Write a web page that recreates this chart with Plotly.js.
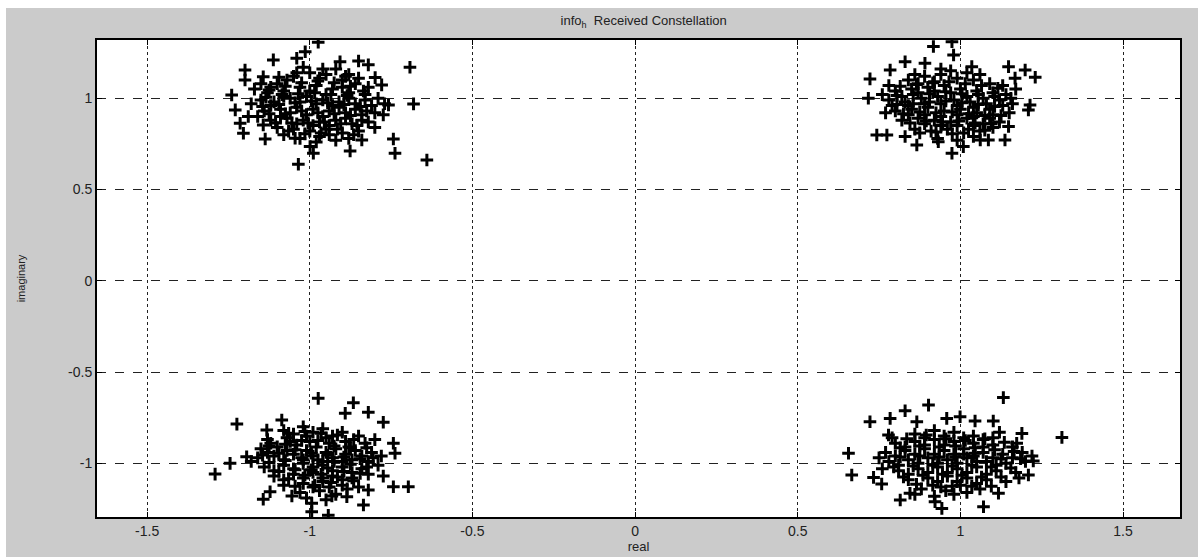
<!DOCTYPE html>
<html>
<head>
<meta charset="utf-8">
<script src="https://cdn.plot.ly/plotly-3.0.1.min.js"></script>
<style>
  html, body { margin: 0; padding: 0; background: #ffffff; }
  #chart { position: absolute; left: 6px; top: 8px; width: 1192px; height: 549px; }
</style>
</head>
<body>
<div id="chart"></div>
<script>
// Received constellation points [real, imaginary]
const clusterTopLeft = [
  [-0.974,1.307],[-1.014,1.255],[-1.112,1.21],[-1.04,1.219],[-1.199,1.155],[-1.199,1.10],[-1.143,1.118],
  [-0.692,1.17],[-1.24,1.018],[-0.681,0.969],[-1.229,0.936],[-1.189,0.90],[-1.214,0.863],[-1.204,0.808],
  [-1.143,0.854],[-1.137,0.777],[-1.045,0.781],[-0.743,0.777],[-0.738,0.699],[-0.876,0.711],[-0.989,0.699],
  [-0.999,0.735],[-1.035,0.638],[-0.64,0.662],[-0.84,0.771],[-0.907,1.20],[-0.85,1.204],[-0.82,1.183],
  [-0.799,1.113],[-0.779,1.073],[-0.758,0.963],[-0.774,0.909],
  [-1.10,1.08],[-1.05,1.12],[-1.00,1.14],[-0.95,1.13],[-0.90,1.10],[-0.86,1.08],[-1.13,1.03],[-1.08,1.04],
  [-1.03,1.06],[-0.98,1.07],[-0.93,1.05],[-0.88,1.03],[-0.83,1.02],[-1.15,0.99],[-1.11,0.98],[-1.06,1.00],
  [-1.01,1.01],[-0.96,0.99],[-0.91,0.98],[-0.86,0.97],[-0.81,0.96],[-1.14,0.93],[-1.09,0.94],[-1.04,0.95],
  [-0.99,0.94],[-0.94,0.93],[-0.89,0.92],[-0.84,0.91],[-1.12,0.88],[-1.07,0.89],[-1.02,0.88],[-0.97,0.87],
  [-0.92,0.88],[-0.87,0.86],[-0.82,0.87],[-1.10,0.84],[-1.05,0.83],[-1.00,0.82],[-0.95,0.83],[-0.90,0.81],
  [-0.85,0.82],[-1.03,0.78],[-0.97,0.79],[-0.92,0.77],[-0.88,0.78],[-1.07,1.10],[-0.97,1.11],[-0.92,1.16],
  [-1.02,1.17],[-0.88,1.13],[-1.12,1.06],[-1.00,1.04],[-0.95,1.02],[-0.90,1.06],[-1.08,1.01],[-1.03,0.98],
  [-0.98,0.97],[-0.93,0.96],[-0.88,1.00],[-0.83,0.99],[-1.12,0.96],[-1.06,0.92],[-1.01,0.91],[-0.96,0.90],
  [-0.91,0.95],[-0.86,0.94],[-1.09,0.90],[-1.04,0.86],[-0.99,0.85],[-0.94,0.85],[-0.89,0.89],[-0.84,0.88],
  [-1.08,0.80],[-0.98,0.76],[-0.94,0.80],[-0.80,0.92],[-0.79,1.00],[-0.82,1.06],[-0.85,1.11],[-1.17,1.05],
  [-1.18,0.97],[-1.16,0.90],
  [-1.125,1.045],[-1.075,1.065],[-1.025,1.085],[-0.975,1.095],[-0.925,1.085],[-0.875,1.065],[-1.135,1.005],
  [-1.085,1.02],[-1.035,1.025],[-0.985,1.03],[-0.935,1.02],[-0.885,1.015],[-0.835,1.04],[-1.145,0.955],
  [-1.095,0.965],[-1.045,0.975],[-0.995,0.985],[-0.945,0.975],[-0.895,0.965],[-0.845,0.955],[-1.125,0.915],
  [-1.075,0.915],[-1.025,0.93],[-0.975,0.92],[-0.925,0.915],[-0.875,0.905],[-0.825,0.93],[-1.105,0.865],
  [-1.055,0.865],[-1.005,0.865],[-0.955,0.87],[-0.905,0.86],[-0.855,0.85],[-1.065,0.82],[-1.015,0.805],
  [-0.965,0.81],[-0.915,0.83],[-0.865,0.80],[-1.04,1.14],[-0.96,1.16],[-0.89,1.12],[-1.095,1.115],
  [-1.15,1.08],[-0.80,0.84],[-0.77,0.97]
];
const clusterTopRight = [
  [0.974,1.31],[0.917,1.283],[0.979,1.237],[0.83,1.20],[0.784,1.155],[0.722,1.106],[1.148,1.173],[1.199,1.155],
  [1.23,1.115],[1.035,1.173],[0.891,1.192],[1.214,0.963],[1.209,0.936],[0.717,1.00],[0.743,0.799],[0.774,0.799],
  [0.83,0.79],[0.866,0.744],[0.974,0.699],[1.009,0.735],[1.061,0.771],[1.086,0.771],[1.137,0.771],[1.148,0.845],
  [1.168,1.11],[0.932,0.762],
  [0.84,1.10],[0.89,1.12],[0.94,1.13],[0.99,1.11],[1.04,1.10],[1.09,1.08],[0.80,1.04],[0.85,1.05],[0.90,1.06],
  [0.95,1.07],[1.00,1.05],[1.05,1.04],[1.10,1.03],[1.14,1.02],[0.78,0.99],[0.83,0.98],[0.88,1.00],[0.93,1.01],
  [0.98,0.99],[1.03,0.98],[1.08,0.97],[1.13,0.96],[0.80,0.93],[0.85,0.94],[0.90,0.95],[0.95,0.93],[1.00,0.94],
  [1.05,0.92],[1.10,0.91],[1.15,0.92],[0.82,0.88],[0.87,0.89],[0.92,0.88],[0.97,0.87],[1.02,0.89],[1.07,0.86],
  [1.12,0.87],[0.86,0.83],[0.91,0.82],[0.96,0.83],[1.01,0.81],[1.06,0.82],[0.93,0.78],[0.99,0.77],[1.04,0.79],
  [0.87,1.08],[0.92,1.09],[0.97,1.15],[1.02,1.14],[0.82,1.01],[0.87,1.03],[0.92,1.04],[0.97,1.03],[1.02,1.01],
  [1.07,1.00],[1.12,0.99],[0.79,0.96],[0.84,0.96],[0.89,0.97],[0.94,0.97],[0.99,0.96],[1.04,0.95],[1.09,0.94],
  [0.84,0.91],[0.89,0.91],[0.94,0.90],[0.99,0.91],[1.04,0.90],[1.09,0.89],[0.89,0.86],[0.94,0.85],[0.99,0.85],
  [1.04,0.85],[1.10,0.84],[1.16,0.97],[1.17,1.05],[0.76,1.02],[0.77,0.92],
  [0.815,1.065],[0.865,1.075],[0.915,1.085],[0.965,1.09],[1.015,1.08],[1.065,1.07],[1.115,1.055],[0.805,1.015],
  [0.855,1.02],[0.905,1.025],[0.955,1.035],[1.005,1.025],[1.055,1.02],[1.105,1.01],[1.155,1.0],[0.805,0.965],
  [0.855,0.97],[0.905,0.98],[0.955,0.985],[1.005,0.975],[1.055,0.965],[1.105,0.955],[0.825,0.915],[0.875,0.925],
  [0.925,0.92],[0.975,0.925],[1.025,0.915],[1.075,0.905],[1.125,0.905],[0.845,0.865],[0.895,0.875],[0.945,0.87],
  [0.995,0.875],[1.045,0.865],[1.095,0.86],[0.875,0.81],[0.925,0.815],[0.975,0.805],[1.025,0.83],[1.075,0.825],
  [0.86,1.13],[0.94,1.16],[1.06,1.13],[1.13,1.07],[0.78,1.07]
];
const clusterBottomLeft = [
  [-0.974,-0.644],[-0.866,-0.668],[-0.891,-0.726],[-0.82,-0.72],[-0.774,-0.775],[-1.224,-0.785],[-1.086,-0.763],
  [-1.132,-0.818],[-0.743,-0.89],[-0.738,-0.945],[-1.194,-0.964],[-1.245,-1.00],[-1.291,-1.059],[-0.743,-1.128],
  [-0.697,-1.128],[-0.774,-1.07],[-1.122,-1.156],[-1.143,-1.197],[-1.055,-1.179],[-0.994,-1.219],[-0.994,-1.265],
  [-0.943,-1.285],[-0.835,-1.228],[-0.886,-1.183],[-0.932,-1.179],[-0.82,-1.146],
  [-1.08,-0.82],[-1.02,-0.80],[-0.96,-0.81],[-0.90,-0.83],[-0.85,-0.85],[-1.13,-0.87],[-1.07,-0.86],[-1.01,-0.85],
  [-0.95,-0.86],[-0.89,-0.88],[-0.83,-0.89],[-1.15,-0.92],[-1.10,-0.91],[-1.04,-0.90],[-0.98,-0.91],[-0.92,-0.92],
  [-0.86,-0.93],[-0.81,-0.94],[-1.16,-0.97],[-1.11,-0.96],[-1.05,-0.95],[-0.99,-0.96],[-0.93,-0.97],[-0.87,-0.98],
  [-0.82,-0.99],[-1.14,-1.02],[-1.08,-1.01],[-1.02,-1.00],[-0.96,-1.01],[-0.90,-1.02],[-0.84,-1.03],[-0.79,-1.01],
  [-1.11,-1.07],[-1.05,-1.06],[-0.99,-1.05],[-0.93,-1.07],[-0.87,-1.08],[-0.82,-1.06],[-1.08,-1.12],[-1.02,-1.11],
  [-0.96,-1.10],[-0.90,-1.12],[-0.85,-1.13],[-1.03,-1.16],[-0.97,-1.15],[-0.92,-1.17],[-1.05,-0.84],[-0.99,-0.83],
  [-0.93,-0.85],[-1.12,-0.89],[-1.06,-0.88],[-1.00,-0.88],[-0.94,-0.89],[-0.88,-0.91],[-1.13,-0.94],[-1.07,-0.93],
  [-1.01,-0.93],[-0.95,-0.94],[-0.89,-0.95],[-0.84,-0.96],[-1.08,-0.98],[-1.02,-0.98],[-0.96,-0.99],[-0.90,-0.99],
  [-1.11,-1.04],[-1.05,-1.03],[-0.99,-1.02],[-0.93,-1.04],[-0.87,-1.05],[-1.08,-1.09],[-1.02,-1.08],[-0.96,-1.08],
  [-0.90,-1.09],[-0.99,-1.13],[-0.94,-1.13],[-1.18,-0.99],[-0.78,-0.96],
  [-1.065,-0.835],[-1.015,-0.825],[-0.965,-0.835],[-0.915,-0.845],[-0.865,-0.87],[-1.125,-0.905],[-1.075,-0.895],
  [-1.025,-0.875],[-0.975,-0.875],[-0.925,-0.905],[-0.875,-0.915],[-0.825,-0.915],[-1.145,-0.955],[-1.095,-0.945],
  [-1.045,-0.925],[-0.995,-0.945],[-0.945,-0.955],[-0.895,-0.965],[-0.845,-0.975],[-0.805,-0.97],[-1.125,-0.995],
  [-1.075,-0.985],[-1.025,-0.97],[-0.975,-0.98],[-0.925,-0.99],[-0.875,-1.005],[-0.825,-1.02],[-1.095,-1.045],
  [-1.045,-1.035],[-0.995,-1.035],[-0.945,-1.025],[-0.895,-1.045],[-0.845,-1.055],[-1.065,-1.085],[-1.015,-1.065],
  [-0.965,-1.06],[-0.915,-1.075],[-0.865,-1.095],[-1.045,-1.125],[-0.985,-1.12],[-0.935,-1.105],[-0.885,-1.14],
  [-1.01,-1.19],[-0.95,-1.2],[-0.80,-0.87]
];
const clusterBottomRight = [
  [1.132,-0.64],[0.902,-0.681],[0.83,-0.712],[0.722,-0.772],[0.784,-0.754],[0.999,-0.745],[0.958,-0.754],
  [1.045,-0.768],[1.101,-0.768],[1.312,-0.858],[0.656,-0.945],[0.666,-1.064],[0.733,-1.077],[0.758,-1.113],
  [0.815,-1.201],[0.845,-1.164],[0.922,-1.21],[0.943,-1.247],[1.071,-1.238],[1.117,-1.164],[1.209,-1.064],
  [1.224,-0.987],[1.189,-0.836],[1.173,-0.89],[0.866,-0.772],[0.779,-0.845],
  [0.86,-0.84],[0.92,-0.82],[0.98,-0.83],[1.04,-0.85],[1.10,-0.86],[0.80,-0.89],[0.86,-0.88],[0.92,-0.87],
  [0.98,-0.88],[1.04,-0.89],[1.10,-0.90],[1.16,-0.91],[0.77,-0.94],[0.83,-0.93],[0.89,-0.92],[0.95,-0.93],
  [1.01,-0.92],[1.07,-0.94],[1.13,-0.95],[1.19,-0.94],[0.78,-0.99],[0.84,-0.98],[0.90,-0.97],[0.96,-0.98],
  [1.02,-0.97],[1.08,-0.99],[1.14,-1.00],[1.20,-0.99],[0.81,-1.04],[0.87,-1.03],[0.93,-1.02],[0.99,-1.03],
  [1.05,-1.02],[1.11,-1.04],[1.17,-1.05],[0.84,-1.09],[0.90,-1.08],[0.96,-1.07],[1.02,-1.08],[1.08,-1.09],
  [1.14,-1.10],[0.88,-1.14],[0.94,-1.13],[1.00,-1.12],[1.06,-1.14],[0.92,-1.18],[0.98,-1.17],[0.89,-0.86],
  [0.95,-0.85],[1.01,-0.86],[1.07,-0.87],[0.83,-0.91],[0.89,-0.90],[0.95,-0.90],[1.01,-0.95],[1.07,-0.91],
  [0.80,-0.96],[0.86,-0.95],[0.92,-0.95],[0.98,-0.95],[1.04,-0.96],[1.10,-0.97],[1.16,-0.97],[0.81,-1.01],
  [0.87,-1.00],[0.93,-1.00],[0.99,-1.00],[1.05,-0.99],[1.11,-1.01],[0.84,-1.06],[0.90,-1.05],[0.96,-1.05],
  [1.02,-1.05],[1.08,-1.06],[0.93,-1.10],[0.99,-1.10],[1.05,-1.11],[0.75,-0.97],[1.22,-0.96],
  [0.835,-0.865],[0.895,-0.845],[0.955,-0.865],[1.015,-0.875],[1.075,-0.865],[1.135,-0.885],[0.815,-0.915],
  [0.875,-0.905],[0.935,-0.91],[0.985,-0.905],[1.045,-0.915],[1.105,-0.925],[1.165,-0.935],[0.815,-0.965],
  [0.875,-0.96],[0.935,-0.965],[0.985,-0.965],[1.045,-0.945],[1.125,-0.975],[1.185,-0.975],[0.795,-1.02],
  [0.855,-1.015],[0.915,-1.01],[0.975,-1.015],[1.035,-1.01],[1.095,-1.02],[1.155,-1.025],[0.825,-1.075],
  [0.885,-1.065],[0.945,-1.06],[1.005,-1.065],[1.065,-1.075],[1.125,-1.075],[0.865,-1.115],[0.915,-1.12],
  [0.975,-1.125],[1.035,-1.125],[1.095,-1.125],[0.955,-1.15],[1.02,-1.16],[0.86,-1.17],[1.18,-1.08],
  [0.79,-0.86],[1.12,-0.83],[0.76,-1.03]
];

const xTickVals = [-1.5, -1, -0.5, 0, 0.5, 1, 1.5];
const xTickText = ["-1.5", "-1", "-0.5", "0", "0.5", "1", "1.5"];
const yTickVals = [-1, -0.5, 0, 0.5, 1];
const yTickText = ["-1", "-0.5", "0", "0.5", "1"];

const clusters = [clusterTopLeft, clusterTopRight, clusterBottomLeft, clusterBottomRight];
const traces = clusters.map(c => ({
  type: 'scatter',
  mode: 'markers',
  x: c.map(p => p[0]),
  y: c.map(p => p[1]),
  showlegend: false,
  hoverinfo: 'x+y',
  marker: { symbol: 'cross-thin', size: 9, color: '#000', line: { color: '#000', width: 3 } }
}));

const fontFam = '"Liberation Sans", Arial, Helvetica, sans-serif';
const layout = {
  width: 1192,
  height: 549,
  paper_bgcolor: '#cbcbcb',
  plot_bgcolor: '#ffffff',
  margin: { l: 91, r: 18, t: 32, b: 40, pad: 0 },
  font: { family: fontFam, size: 14, color: '#222' },
  title: {
    text: 'info<sub>h</sub>  Received Constellation',
    font: { family: fontFam, size: 13, color: '#222' },
    x: 0.535, xanchor: 'center', y: 0.985, yanchor: 'top'
  },
  xaxis: {
    range: [-1.654, 1.675],
    tickvals: xTickVals, ticktext: xTickText,
    ticks: 'inside', ticklen: 5, tickcolor: '#000', tickwidth: 1,
    showline: true, linecolor: '#000', linewidth: 2, mirror: 'ticks',
    showgrid: true, gridcolor: '#222', gridwidth: 1, griddash: 'dot',
    zeroline: false,
    tickfont: { size: 14, color: '#222' },
    title: { text: 'real', font: { size: 13, color: '#222' }, standoff: 4 }
  },
  yaxis: {
    range: [-1.294, 1.319],
    tickvals: yTickVals, ticktext: yTickText,
    ticks: 'inside', ticklen: 5, tickcolor: '#000', tickwidth: 1,
    showline: true, linecolor: '#000', linewidth: 2, mirror: 'ticks',
    showgrid: true, gridcolor: '#222', gridwidth: 1, griddash: 'dash',
    zeroline: false,
    tickfont: { size: 14, color: '#222' },
    title: { text: 'imaginary', font: { size: 11, color: '#222' }, standoff: 40 }
  }
};

Plotly.newPlot('chart', traces, layout, { displayModeBar: false, staticPlot: true });
</script>
</body>
</html>
